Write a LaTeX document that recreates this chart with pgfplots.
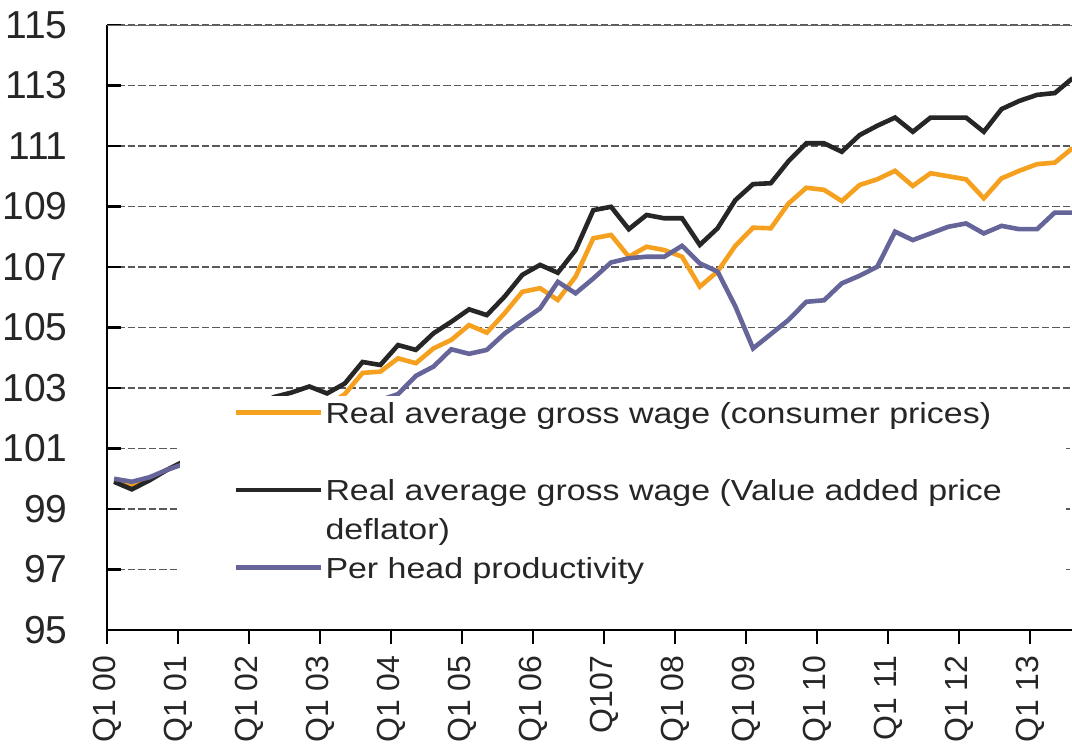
\documentclass[border=0pt]{standalone}
\usepackage{pgfplots}
\pgfplotsset{compat=1.18}
\usepackage{pgfplotstable}
\usepackage{fontspec}
\setmainfont{Liberation Sans}
\newfontfamily\legfont{Liberation Sans}[FakeStretch=1.17]
\definecolor{cOr}{RGB}{245,160,30}
\definecolor{cBk}{RGB}{38,38,38}
\definecolor{cPu}{RGB}{102,101,154}
\pgfplotstableread{
x O B P
0.4 99.95 99.9 100.0
1.4 99.8 99.65 99.9
2.4 100.0 99.95 100.05
3.4 100.3 100.3 100.3
4.4 100.55 100.6 100.5
5.4 100.9 101.0 100.8
6.4 101.3 101.5 101.0
7.4 101.6 101.9 101.2
8.4 101.9 102.4 101.5
9.4 102.1 102.7 101.7
10.4 102.3 102.85 101.9
11.4 102.45 103.05 102.0
12.4 102.4 102.82 102.1
13.4 102.8 103.15 102.25
14.4 103.5 103.86 102.4
15.4 103.54 103.76 102.6
16.4 103.98 104.42 102.8
17.4 103.82 104.26 103.4
18.4 104.31 104.81 103.71
19.4 104.59 105.19 104.28
20.4 105.08 105.6 104.13
21.4 104.83 105.41 104.26
22.4 105.47 106.02 104.8
23.4 106.18 106.74 105.22
24.4 106.3 107.07 105.63
25.4 105.91 106.81 106.51
26.4 106.68 107.56 106.13
27.4 107.95 108.88 106.62
28.4 108.06 108.99 107.15
29.4 107.34 108.25 107.29
30.4 107.67 108.72 107.34
31.4 107.56 108.61 107.34
32.4 107.34 108.61 107.7
33.4 106.35 107.73 107.12
34.4 106.85 108.28 106.85
35.4 107.7 109.21 105.7
36.4 108.3 109.74 104.31
37.4 108.28 109.77 104.78
38.4 109.1 110.5 105.25
39.4 109.62 111.09 105.85
40.4 109.55 111.09 105.9
41.4 109.18 110.81 106.46
42.4 109.71 111.36 106.71
43.4 109.9 111.67 107.01
44.4 110.18 111.94 108.17
45.4 109.68 111.47 107.89
46.4 110.1 111.94 108.11
47.4 110.0 111.94 108.33
48.4 109.9 111.94 108.44
49.4 109.27 111.47 108.11
50.4 109.93 112.22 108.36
51.4 110.18 112.49 108.25
52.4 110.4 112.69 108.25
53.4 110.45 112.75 108.8
54.4 110.93 113.24 108.8
}\datatable
\begin{document}
\begin{tikzpicture}
\begin{axis}[
  scale only axis, width=482.5pt, height=302.5pt,
  xmin=0, xmax=54.37, ymin=95, ymax=115,
  axis x line*=bottom, axis y line*=left,
  axis line style={black, line width=1.1pt},
  ytick={95,97,...,115},
  xtick={0,4,...,52},
  xticklabels={Q1 00,Q1 01,Q1 02,Q1 03,Q1 04,Q1 05,Q1 06,Q107,Q1 08,Q1 09,Q1 10,Q1 11,Q1 12,Q1 13},
  tick align=outside,
  major tick length=7pt,
  tick style={black, line width=1.1pt},
  ytick style={xshift=7pt},
  ymajorgrids,
  grid style={black!65, line width=0.7pt, dash pattern=on 3.75pt off 1.5pt},
  /pgf/number format/assume math mode=true,
  yticklabel style={font=\fontsize{19.5}{20}\selectfont, text=black!85, inner sep=0pt, anchor=east},
  yticklabel shift=12.5pt,
  xticklabel style={font=\fontsize{16}{18}\selectfont, text=black!85, rotate=90, anchor=east, inner sep=0pt},
  xticklabel shift=5.5pt,
  legend style={at={(axis cs:7.15,102.65)}, anchor=north west, draw=none, fill=none,
    inner sep=0pt, outer sep=0pt, row sep=5.5pt, column sep=1pt,
    nodes={inner sep=0pt, text=black!85},
    font=\legfont\fontsize{14.5}{17}\selectfont},
  legend cell align=left,
  legend image code/.code={\draw[#1] (0pt,0pt) -- (42.5pt,0pt);},
]
\addplot[cOr, line width=2.3pt] table[x=x, y=O] {\datatable};
\addlegendentry{\rule{0pt}{12.4pt}Real average gross wage (consumer prices)}
\addlegendimage{empty legend}
\addlegendentry{\rule{0pt}{12.4pt}\phantom{(g)}}
\addplot[cBk, line width=2.3pt] table[x=x, y=B] {\datatable};
\addlegendentry{\rule{0pt}{12.4pt}Real average gross wage (Value added price}
\addlegendimage{empty legend}
\addlegendentry{\rule{0pt}{12.4pt}deflator)}
\addplot[cPu, line width=2.3pt] table[x=x, y=P] {\datatable};
\addlegendentry{\rule{0pt}{12.4pt}Per head productivity}
\fill[white] (axis cs:4.11,95.15) rectangle (axis cs:54.03,102.75);
\draw[black!60, line width=1.1pt] (rel axis cs:0,1) -- (rel axis cs:1,1);
\coordinate (bl) at (rel axis cs:0,0);
\coordinate (tr) at (rel axis cs:1,1);
\end{axis}
\pgfresetboundingbox
\path ([xshift=-53.5pt,yshift=-58pt]bl) rectangle ([yshift=12.5pt]tr);
\end{tikzpicture}
\end{document}
